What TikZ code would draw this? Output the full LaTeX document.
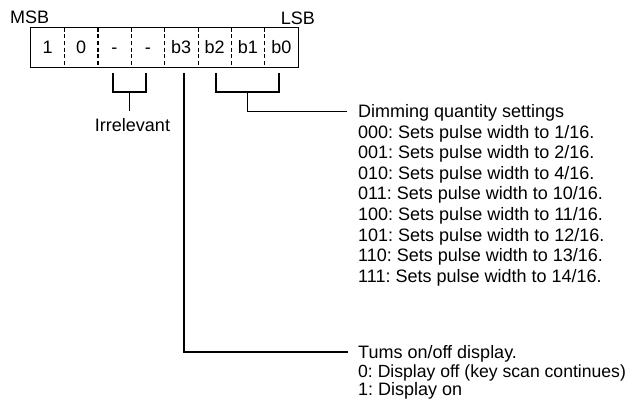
\documentclass[tikz,border=0pt]{standalone}
\usepackage{fontspec}
\setmainfont{Liberation Sans}
\frenchspacing
\begin{document}
\begin{tikzpicture}[x=1pt,y=-1pt,
  every node/.style={font=\fontsize{18}{20.6}\selectfont\frenchspacing, inner sep=0pt, text=black},
  cell/.style={minimum width=33.375pt, minimum height=39pt, text height=12.9pt, text depth=0pt},
  wire/.style={line width=1.3pt, line join=miter},
  divider/.style={line width=1.1pt, dash pattern=on 4pt off 2.6pt},
  txt/.style={anchor=base west}]
\useasboundingbox (0,0) rectangle (632,408);
% register cells
\foreach \t [count=\i] in {1,0,-,-,b3,b2,b1,b0}{
  \node[cell] (c\i) at ({31+33.375*(\i-0.5)},47.5) {\t};
}
\draw[wire] (c1.north west) rectangle (c8.south east);
\foreach \i in {1,...,7}{
  \draw[divider] (c\i.north east) -- (c\i.south east);
}
\node[anchor=base west] (msb) at (10,23.5) {MSB};
\node[anchor=base east] (lsb) at (315,24) {LSB};
% irrelevant bracket
\coordinate (ia) at (113,73);
\coordinate (ib) at (146,73);
\coordinate (is) at (129.5,111);
\draw[wire] (ia) -- (113,92) -- (146,92) -- (ib);
\draw[wire] (129.5,92) -- (is);
\node[anchor=base] (irr) at (132.5,131.5) {Irrelevant};
% dimming bracket
\coordinate (da) at (216,73);
\coordinate (db) at (279,73);
\draw[wire] (da) -- (216,92) -- (279,92) -- (db);
\foreach \t [count=\k from 0] in {Dimming quantity settings,
  000: Sets pulse width to 1/16.,
  001: Sets pulse width to 2/16.,
  010: Sets pulse width to 4/16.,
  011: Sets pulse width to 10/16.,
  100: Sets pulse width to 11/16.,
  101: Sets pulse width to 12/16.,
  110: Sets pulse width to 13/16.,
  111: Sets pulse width to 14/16.}{
  \node[txt] (d\k) at (358,{117.5+20.6*\k}) {\t};
}
\coordinate (dend) at (347,111.5);
\draw[wire] (247.5,92) -- (247.5,111.5) -- (dend);
% display bit
\coordinate (b3top) at (184,73);
\coordinate (tend) at (348,352);
\draw[wire] (b3top) -- (184,352) -- (tend);
\node[txt] (t0) at (358,358.5) {Tums on/off display.};
\node[txt, font=\fontsize{17.6}{20}\selectfont\frenchspacing] (t1) at (358,377) {0: Display off (key scan continues)};
\node[txt] (t2) at (358,395.5) {1: Display on};
\end{tikzpicture}
\end{document}
